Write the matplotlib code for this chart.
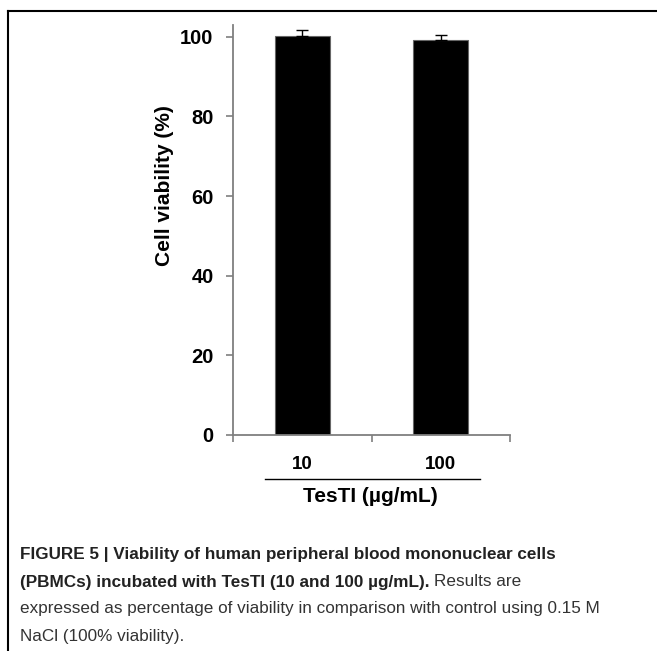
import matplotlib
matplotlib.use("Agg")
import matplotlib.pyplot as plt
from matplotlib.lines import Line2D

categories = ["10", "100"]
viability = [100.3, 99.2]
errors = [1.4, 1.3]
yticks = [0, 20, 40, 60, 80, 100]

W, H = 657, 651
fig = plt.figure(figsize=(W / 100, H / 100), dpi=100)
plt.rcParams['font.family'] = ['Liberation Sans', 'DejaVu Sans']

def fx(px):
    return px / W

def fy(py):
    return 1 - py / H

# axes: x 233..510, y0 at 435, y100 at 36.7
y0, y100 = 435.0, 36.7
top_val = 103
ytop = y0 - (y0 - y100) * top_val / 100
ax = fig.add_axes([fx(233), fy(y0), fx(510) - fx(233), fy(ytop) - fy(y0)])
axis_color = "#7f7f7f"
ax.bar(range(len(categories)), viability, width=0.4, color="black",
       edgecolor="#666666", linewidth=0.8, zorder=2)
ax.errorbar(range(len(categories)), viability, yerr=[[0] * len(errors), errors],
            fmt="none", ecolor="black", elinewidth=1.0, capsize=4, capthick=1.0, zorder=3)
ax.set_xlim(-0.5, 1.5)
ax.set_ylim(0, top_val)
ax.set_yticks(yticks)
ax.set_yticklabels([str(t) for t in yticks], fontsize=14.5, fontweight="bold")
ax.set_xticks([-0.5, 0.5, 1.5])
ax.set_xticklabels([])
for s in ["top", "right"]:
    ax.spines[s].set_visible(False)
for s in ["left", "bottom"]:
    ax.spines[s].set_color(axis_color)
    ax.spines[s].set_linewidth(1.3)
ax.tick_params(axis="both", colors=axis_color, length=5, width=1.2, labelcolor="black")
ax.tick_params(axis="y", pad=9)

# category labels
for i, c in enumerate(categories):
    ax.text(i, -0.072, c, transform=ax.get_xaxis_transform(), ha="center", va="center",
            fontsize=13.5, fontweight="bold")

# y label
fig.text(fx(165), fy(186), "Cell viability (%)", rotation=90, ha="center", va="center",
         fontsize=15, fontweight="bold")

# underline and x title
fig.add_artist(Line2D([fx(265), fx(480)], [fy(479), fy(479)], color="black", linewidth=1.0))
fig.text(fx(370), fy(497), "TesTI (µg/mL)", ha="center", va="center",
         fontsize=15, fontweight="bold")

# frame
fig.add_artist(Line2D([fx(8), fx(8)], [fy(11), fy(651)], color="black", linewidth=1.5))
fig.add_artist(Line2D([fx(8), fx(657)], [fy(11), fy(11)], color="black", linewidth=1.5))

# caption
cap_fs = 12.3
fig.text(fx(20), fy(555), "FIGURE 5 | Viability of human peripheral blood mononuclear cells",
         ha="left", va="center", fontsize=cap_fs, fontweight="bold", color="#222222")
t_bold = fig.text(fx(20), fy(582), "(PBMCs) incubated with TesTI (10 and 100 µg/mL).",
                  ha="left", va="center", fontsize=cap_fs, fontweight="bold", color="#222222")
fig.canvas.draw()
bb = t_bold.get_window_extent(renderer=fig.canvas.get_renderer())
fig.text(bb.x1 / W + fx(4), fy(582), "Results are", ha="left", va="center",
         fontsize=cap_fs, color="#333333")
fig.text(fx(20), fy(609), "expressed as percentage of viability in comparison with control using 0.15 M",
         ha="left", va="center", fontsize=cap_fs, color="#333333")
fig.text(fx(20), fy(636), "NaCl (100% viability).", ha="left", va="center",
         fontsize=cap_fs, color="#333333")

fig.savefig("out.png", dpi=100)
